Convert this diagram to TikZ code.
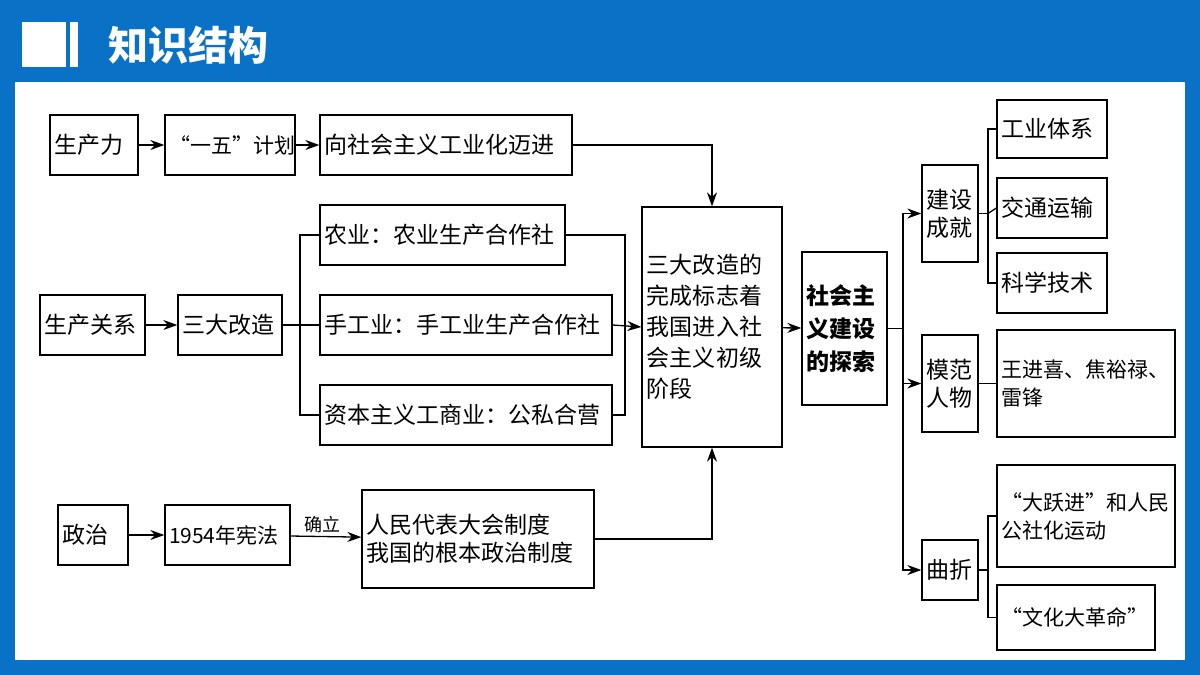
\documentclass[tikz,border=0pt]{standalone}
\usepackage{fontspec}
\setmainfont{Noto Sans CJK SC}
\XeTeXlinebreaklocale "zh"
\XeTeXlinebreakskip=0pt plus 1pt
\usetikzlibrary{arrows.meta}
\definecolor{hb}{HTML}{0A72C6}
\begin{document}
\begin{tikzpicture}[x=1pt,y=-1pt,
 bx/.style={draw=black,line width=1.3pt,inner sep=3pt,align=left,font=\fontsize{23}{28}\selectfont},
 sm/.style={font=\fontsize{21}{28}\selectfont},
 ln/.style={line width=1.3pt},
 ar/.style={line width=1.3pt,-{Stealth[length=14pt,width=10pt]}}]
\useasboundingbox (0,0) rectangle (1200,675);
\fill[hb] (0,0) rectangle (1200,675);
\fill[white] (15,82) rectangle (1185,660);
\fill[white] (22,22) rectangle (66,67);
\fill[white] (70,22) rectangle (78,67);
\node[anchor=west,text=white,font=\fontsize{40}{44}\selectfont\bfseries] (title) at (105,45) {知识结构};
\newcommand{\B}[7][]{\pgfmathsetmacro\mw{#5-#3}\pgfmathsetmacro\mh{#6-#4}\pgfmathsetmacro\tw{#5-#3-8}%
\node[bx,minimum width=\mw pt,minimum height=\mh pt,text width=\tw pt,#1] (#2) at ({(#3+#5)/2},{(#4+#6)/2}) {#7};}
\B{scl}{50}{115}{138}{175}{生产力}
\B[sm]{yw}{165}{115}{295}{175}{\mbox{“一五”计划}}
\B{gyh}{320}{115}{572}{175}{向社会主义工业化迈进}
\B{ny}{320}{205}{565}{265}{农业：农业生产合作社}
\B{sg}{320}{295}{612}{355}{手工业：手工业生产合作社}
\B{zb}{320}{385}{612}{445}{资本主义工商业：公私合营}
\B{scgx}{40}{295}{145}{355}{生产关系}
\B{sdgz}{178}{295}{282}{355}{三大改造}
\B[font=\fontsize{23}{31}\selectfont]{big}{642}{207}{782}{447}{三大改造的完成标志着我国进入社会主义初级阶段}
\B{zz}{58}{505}{128}{565}{政治}
\B[sm]{xf}{165}{505}{290}{565}{\mbox{1954年宪法}}
\B{rd}{362}{490}{594}{588}{人民代表大会制度\\我国的根本政治制度}
\B[font=\fontsize{23}{33}\selectfont\bfseries]{ts}{802}{252}{887}{405}{社会主义建设的探索}
\B{jscj}{922}{165}{978}{262}{建设成就}
\B{gytx}{997}{100}{1107}{158}{工业体系}
\B{jtys}{997}{178}{1107}{238}{交通运输}
\B{kxjs}{997}{253}{1107}{313}{科学技术}
\B{mfrw}{922}{335}{978}{432}{模范人物}
\B[sm]{wjx}{997}{330}{1175}{437}{\mbox{王进喜、焦裕禄、}\\雷锋}
\B{qz}{922}{540}{978}{600}{曲折}
\B[sm]{dyj}{997}{465}{1175}{567}{\mbox{“大跃进”和人民}\\公社化运动}
\B[sm]{whdgm}{997}{585}{1155}{650}{\mbox{“文化大革命”}}
\draw[ar] (scl) -- (yw);
\draw[ar] (yw) -- (gyh);
\draw[ar] (gyh.east) -| (big.north);
\draw[ar] (scgx) -- (sdgz);
\coordinate (s1) at (300,325);
\draw[ln] (sdgz.east) -- (s1);
\draw[ln] (ny.west) -| (s1) |- (zb.west);
\draw[ln] (s1) -- (sg.west);
\coordinate (j1) at (625,325);
\draw[ln] (ny.east) -| (j1) |- (zb.east);
\draw[ar] (sg.east) -- (big.west);
\draw[ar] (zz) -- (xf);
\draw[ar] (xf) -- node[above,font=\fontsize{18}{20}\selectfont,pos=0.45] {确立} (rd);
\draw[ar] (rd.east) -| (big.south);
\draw[ar] (big) -- (ts);
\coordinate (t1) at (903,328.5);
\draw[ln] (ts.east) -- (t1);
\draw[ar] (t1) |- (jscj.west);
\draw[ar] (t1|-mfrw.west) -- (mfrw.west);
\draw[ar] (t1) |- (qz.west);
\coordinate (c1) at (988,213.5);
\draw[ln] (jscj.east) -- (c1);
\draw[ln] (gytx.west) -| (c1) |- (kxjs.west);
\draw[ln] (c1) -- (jtys.west);
\draw[ln] (mfrw.east) -- (wjx.west|-mfrw.east);
\coordinate (c2) at (988,570);
\draw[ln] (qz.east) -- (c2);
\draw[ln] (dyj.west) -| (c2) |- (whdgm.west);
\end{tikzpicture}
\end{document}
